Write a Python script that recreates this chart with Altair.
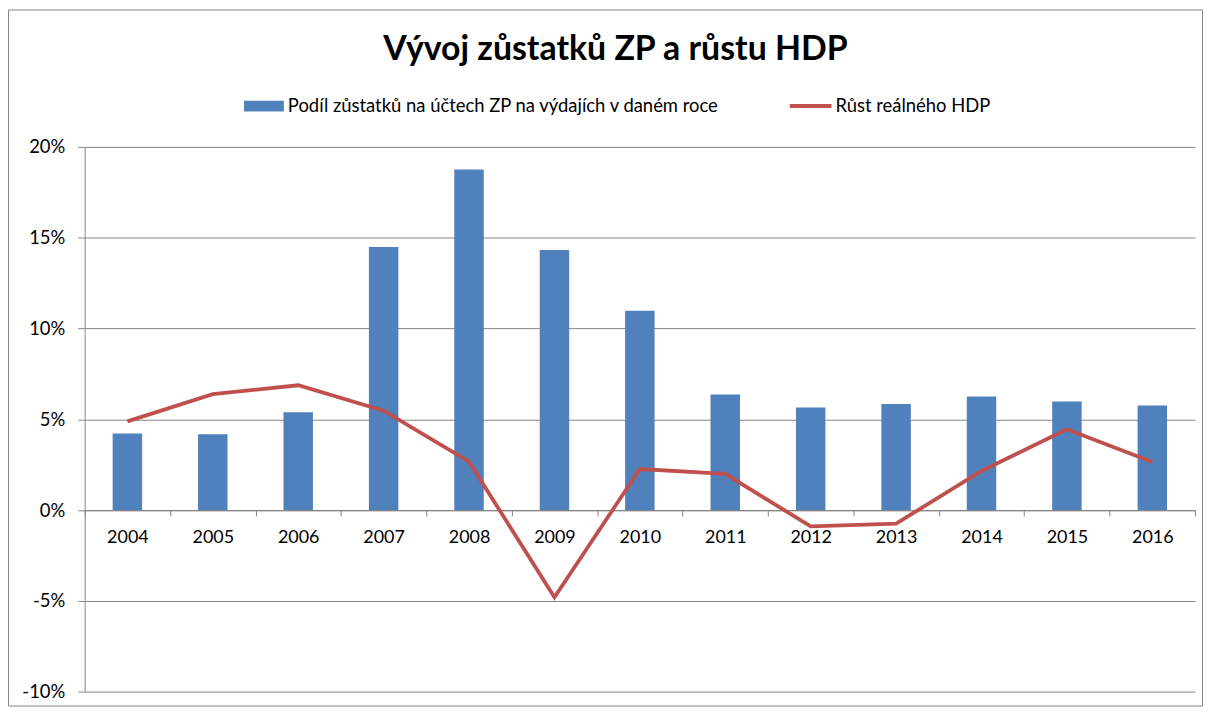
import altair as alt
import pandas as pd

TITLE = "Vývoj zůstatků ZP a růstu HDP"
SERIES_BAR = "Podíl zůstatků na účtech ZP na výdajích v daném roce"
SERIES_LINE = "Růst reálného HDP"

years = ["2004", "2005", "2006", "2007", "2008", "2009", "2010",
         "2011", "2012", "2013", "2014", "2015", "2016"]
share = [4.22, 4.17, 5.38, 14.48, 18.76, 14.32, 10.97, 6.36, 5.65, 5.84, 6.25, 5.98, 5.76]
gdp = [4.88, 6.38, 6.87, 5.47, 2.66, -4.81, 2.26, 1.99, -0.90, -0.75, 2.15, 4.45, 2.64]
y_ticks = [-10, -5, 0, 5, 10, 15, 20]

BLUE = "#4F81BD"
RED = "#C0504D"
GRAY = "#868686"
FONT = "Lato"

W, H = 1115, 547

df = pd.DataFrame({"year": years, "share": share, "gdp": gdp,
                   "s1": SERIES_BAR, "s2": SERIES_LINE})

x_scale = alt.Scale(paddingInner=0, paddingOuter=0)
y_scale = alt.Scale(domain=[-10, 20], nice=False)

x_axis = alt.Axis(title=None, labelAngle=0, offset=-H / 3, tickBand="extent",
                  tickSize=6, tickColor=GRAY, domainColor=GRAY, grid=False,
                  labelFont=FONT, labelFontSize=18, labelColor="#000",
                  labelPadding=13)
y_axis = alt.Axis(title=None, values=y_ticks, labelExpr="datum.value + '%'",
                  tickSize=7, tickColor=GRAY, domainColor=GRAY, gridColor=GRAY,
                  grid=True, labelFont=FONT, labelFontSize=18.5, labelColor="#000",
                  labelPadding=13)

bars = alt.Chart(df).mark_bar(width=alt.RelativeBandSize(0.345)).encode(
    x=alt.X("year:N", scale=x_scale, axis=x_axis, sort=years),
    y=alt.Y("share:Q", scale=y_scale, axis=y_axis),
    fill=alt.Fill("s1:N", scale=alt.Scale(domain=[SERIES_BAR], range=[BLUE]),
                  legend=alt.Legend(orient="none", legendX=160, legendY=-61, title=None,
                                    symbolType="M-1,-0.27H1V0.27H-1Z", symbolSize=1600,
                                    symbolStrokeWidth=0, labelFont=FONT, labelFontSize=18.5,
                                    labelColor="#000", labelOffset=4, padding=0,
                                    labelLimit=0)),
)

line = alt.Chart(df).mark_line(strokeWidth=3.8, strokeJoin="miter").encode(
    x=alt.X("year:N", scale=x_scale, axis=x_axis, sort=years),
    y=alt.Y("gdp:Q", scale=y_scale, axis=y_axis),
    stroke=alt.Stroke("s2:N", scale=alt.Scale(domain=[SERIES_LINE], range=[RED]),
                      legend=alt.Legend(orient="none", legendX=706, legendY=-64, title=None,
                                        symbolType="stroke", symbolSize=1764,
                                        symbolStrokeWidth=4, labelFont=FONT, labelFontSize=18.5,
                                        labelColor="#000", labelOffset=2, padding=0,
                                        labelLimit=0)),
)

title = alt.Chart(pd.DataFrame({"t": [TITLE]})).mark_text(
    font=FONT, fontSize=34, fontWeight="bold", color="#000",
    align="center", baseline="alphabetic"
).encode(x=alt.value(533), y=alt.value(-87), text="t:N")

border = alt.Chart(pd.DataFrame({"k": [0]})).mark_rect(
    fillOpacity=0, stroke=GRAY, strokeWidth=1
).encode(x=alt.value(-76.5), x2=alt.value(W + 7.5),
         y=alt.value(-137.5), y2=alt.value(H + 14.5))

chart = alt.layer(border, bars, line, title).properties(
    width=W, height=H,
    autosize=alt.AutoSizeParams(type="none"),
    padding={"left": 77, "top": 138, "right": 8, "bottom": 15},
    background="white",
).configure_view(stroke=None)

chart.save("out.html", embed_options={"renderer": "svg", "actions": False})
